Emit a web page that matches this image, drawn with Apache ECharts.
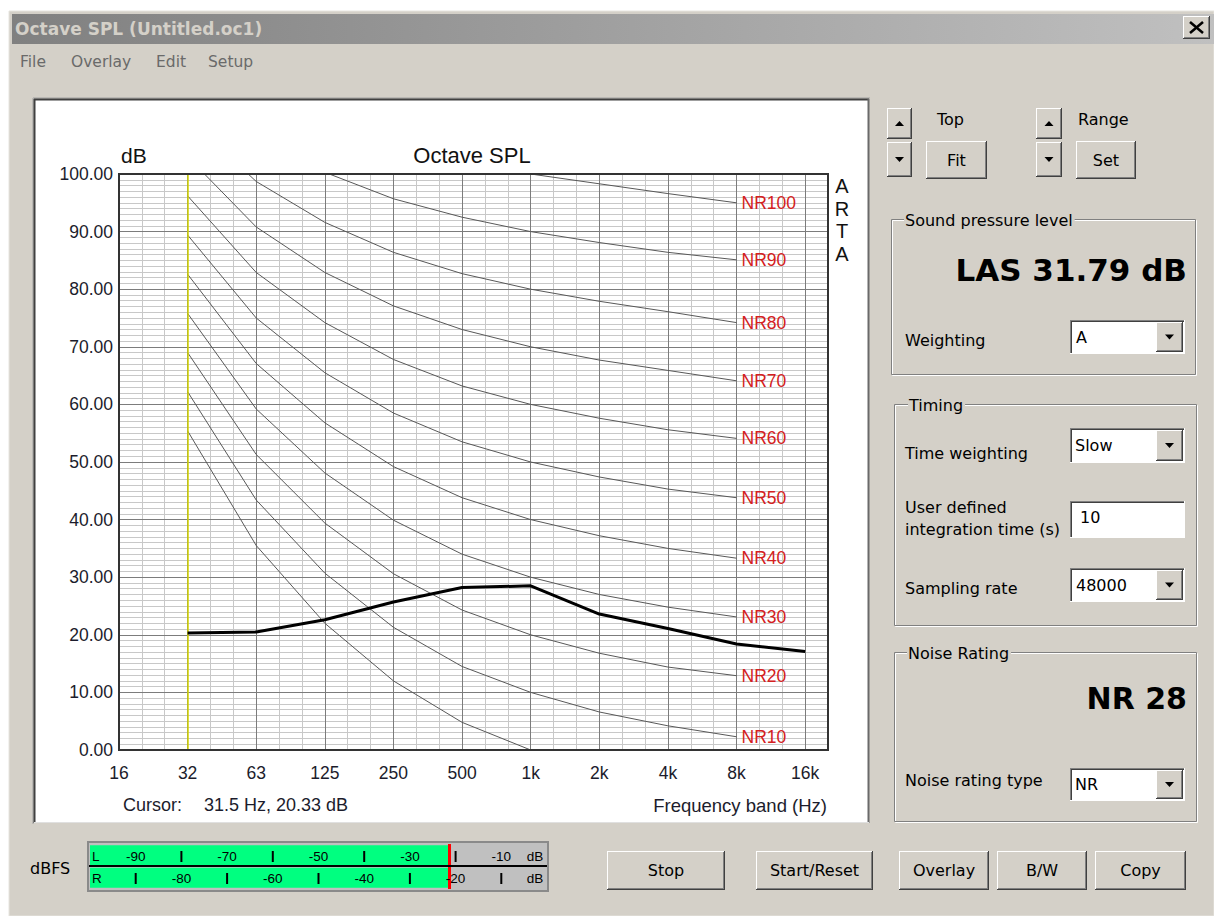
<!DOCTYPE html>
<html><head><meta charset="utf-8">
<script src="https://cdn.jsdelivr.net/npm/echarts@6/dist/echarts.min.js"></script>
<style>html,body{margin:0;padding:0;background:#fff;}#c{width:1214px;height:916px;}</style>
</head><body><div id="c"></div>
<script>
// ---------- data ----------
const bands = ['16','32','63','125','250','500','1k','2k','4k','8k','16k'];
const nrBands = ['32','63','125','250','500','1k','2k','4k','8k'];
const nrLevels = [0,10,20,30,40,50,60,70,80,90,100];
const nr0   = [55.4, 35.5, 22.0, 12.0,  4.8,   0.0, -3.5, -6.1, -8.0];
const nr10  = [62.2, 43.4, 30.7, 21.3, 14.5,  10.0,  6.6,  4.2,  2.3];
const nr20  = [69.0, 51.3, 39.4, 30.6, 24.3,  20.0, 16.8, 14.4, 12.9];
const nr30  = [75.8, 59.2, 48.1, 39.9, 34.0,  30.0, 27.0, 24.8, 23.1];
const nr40  = [82.6, 67.1, 56.8, 49.2, 43.8,  40.0, 37.2, 35.0, 33.3];
const nr50  = [89.4, 75.0, 65.5, 58.5, 53.5,  50.0, 47.4, 45.3, 43.8];
const nr60  = [96.2, 82.9, 74.2, 67.8, 63.2,  60.0, 57.6, 55.6, 54.1];
const nr70  = [103.0,90.8, 82.9, 77.1, 73.0,  70.0, 67.7, 65.9, 64.1];
const nr80  = [109.8,98.7, 91.6, 86.4, 82.7,  80.0, 77.9, 76.1, 74.2];
const nr90  = [116.6,106.6,100.3,95.7, 92.5,  90.0, 88.1, 86.4, 85.1];
const nr100 = [123.4,114.5,109.0,105.0,102.2,100.0, 98.3, 96.6, 95.0];
const measuredBands = ['32','63','125','250','500','1k','2k','4k','8k','16k'];
const measuredDb = [20.33, 20.5, 22.6, 25.7, 28.2, 28.5, 23.6, 21.1, 18.4, 17.1];
const cursorBand = '32';
const cursorFreqHz = '31.5';
const meterChannels = ['L','R'];
const meterLevels = [-21.4, -21.4];
const meterLabelsL = [-90,-70,-50,-30,-10];
const meterTicksL  = [-80,-60,-40,-20];
const meterLabelsR = [-80,-60,-40,-20];
const meterTicksR  = [-90,-70,-50,-30,-10];

const nrCurves = [nr0,nr10,nr20,nr30,nr40,nr50,nr60,nr70,nr80,nr90,nr100];
const UI = '"DejaVu Sans", sans-serif';
const AR = '"Liberation Sans", Arial, sans-serif';
const BG = '#d4d0c8';
const octIdx = b => bands.indexOf(b);

const chart = echarts.init(document.getElementById('c'), null, {renderer:'svg', width:1214, height:916});

const nrSeries = nrLevels.map((lv,k)=>({
  type:'line', xAxisIndex:1, yAxisIndex:1, silent:true, clip:true, symbol:'none',
  data: nrBands.map((b,i)=>[octIdx(b), nrCurves[k][i]]),
  lineStyle:{color:'#585858', width:1},
  endLabel: lv>0 ? {show:true, formatter:'NR'+lv, color:'#d42020', fontSize:17.5, fontFamily:AR, distance:5} : {show:false},
  z:3
}));

const option = {
  animation:false,
  backgroundColor:'transparent',
  grid:[
    {left:119, top:174, width:709, height:576, show:false},
    {left:90, top:844, width:457, height:45, show:false}
  ],
  xAxis:[
    {gridIndex:0, type:'value', min:0, max:31, interval:1, position:'top', z:0,
     axisLine:{show:false}, axisTick:{show:false}, axisLabel:{show:false},
     splitLine:{show:true, lineStyle:{color:'#c8c8c8', width:1}}},
    {gridIndex:0, type:'value', min:0, max:31/3, interval:1, position:'bottom', z:1,
     axisLine:{show:false}, axisTick:{show:false},
     axisLabel:{show:true, margin:14, fontSize:17.5, fontFamily:AR, color:'#1c1c2c', showMinLabel:true,
       formatter:v=>Number.isInteger(v)?bands[v]:''},
     splitLine:{show:true, lineStyle:{color:'#7c7c7c', width:1}}},
    {gridIndex:1, type:'value', min:0, max:100, show:false}
  ],
  yAxis:[
    {gridIndex:0, type:'value', min:0, max:100, interval:1, position:'right', z:0,
     axisLine:{show:false}, axisTick:{show:false}, axisLabel:{show:false},
     splitLine:{show:true, lineStyle:{color:'#c8c8c8', width:1}}},
    {gridIndex:0, type:'value', min:0, max:100, interval:10, position:'left', z:1,
     axisLine:{show:false}, axisTick:{show:false},
     axisLabel:{show:true, margin:6, fontSize:17.5, fontFamily:AR, color:'#1c1c2c', formatter:v=>v.toFixed(2)},
     splitLine:{show:true, lineStyle:{color:'#7c7c7c', width:1}}},
    {gridIndex:1, type:'category', data:meterChannels, inverse:true, show:false}
  ],
  series:[
    ...nrSeries,
    {type:'line', xAxisIndex:1, yAxisIndex:1, silent:true, clip:true, symbol:'none', z:6,
     data: measuredBands.map((b,i)=>[octIdx(b), measuredDb[i]]),
     lineStyle:{color:'#000', width:3},
     markLine:{silent:true, symbol:'none', label:{show:false}, animation:false,
       lineStyle:{color:'#d4d400', width:1.5, type:'solid'},
       data:[{xAxis: octIdx(cursorBand)}]}},
    {type:'bar', xAxisIndex:2, yAxisIndex:2, silent:true, barWidth:20, z:3,
     data: meterLevels.map(v=>v+100), itemStyle:{color:'#00ff80'},
     markLine:{silent:true, symbol:'none', label:{show:false}, animation:false,
       lineStyle:{color:'#ff0000', width:3, type:'solid'},
       data:[{xAxis: Math.max(...meterLevels)+100}]}}
  ]
};
chart.setOption(option);

// ---------- window chrome (graphics) ----------
const G = [];
function rect(x,y,w,h,fill,stroke,lw,z){G.push({type:'rect',silent:true,z:z??10,shape:{x,y,width:w,height:h},style:{fill:fill||'none',stroke:stroke||'none',lineWidth:lw||1}});}
function line(x1,y1,x2,y2,stroke,lw,z){G.push({type:'line',silent:true,z:z??10,shape:{x1,y1,x2,y2},style:{stroke,lineWidth:lw||1}});}
function poly(points,fill,z){G.push({type:'polygon',silent:true,z:z??15,shape:{points},style:{fill}});}
function txt(t,x,y,size,o){o=o||{};G.push({type:'text',silent:true,z:o.z??20,style:{text:t,x,y,fill:o.color||'#000',
  fontSize:size,fontFamily:o.family||UI,fontWeight:o.weight||'normal',
  textAlign:o.align||'left',align:o.align||'left',textVerticalAlign:'middle',verticalAlign:'middle',
  backgroundColor:o.bg,padding:o.pad}});}
function raised(x,y,w,h,z){z=z??10;
  rect(x,y,w,h,BG,null,1,z);
  line(x,y+0.5,x+w-1,y+0.5,'#fff',1,z); line(x+0.5,y,x+0.5,y+h-1,'#fff',1,z);
  line(x,y+h-0.5,x+w,y+h-0.5,'#404040',1,z); line(x+w-0.5,y,x+w-0.5,y+h,'#404040',1,z);
  line(x+1,y+h-1.5,x+w-1,y+h-1.5,'#808080',1,z); line(x+w-1.5,y+1,x+w-1.5,y+h-1,'#808080',1,z);}
function sunken(x,y,w,h,fill){
  rect(x,y,w,h,fill);
  line(x,y+0.5,x+w,y+0.5,'#808080'); line(x+0.5,y,x+0.5,y+h,'#808080');
  line(x+1,y+1.5,x+w-1,y+1.5,'#404040'); line(x+1.5,y+1,x+1.5,y+h-1,'#404040');
  line(x,y+h-0.5,x+w,y+h-0.5,'#fff'); line(x+w-0.5,y,x+w-0.5,y+h,'#fff');}
function button(x,y,w,h,label){raised(x,y,w,h); txt(label,x+w/2,y+h/2,16,{align:'center'});}
function triDown(cx,cy){poly([[cx-4.5,cy-2.5],[cx+4.5,cy-2.5],[cx,cy+2.5]],'#000');}
function triUp(cx,cy){poly([[cx-4.5,cy+2.5],[cx+4.5,cy+2.5],[cx,cy-2.5]],'#000');}
function combo(x,y,w,h,label,lx){sunken(x,y,w,h,'#fff'); raised(x+w-29,y+2,27,h-4,12); triDown(x+w-15.5,y+h/2); txt(label,lx||x+6,y+h/2,16);}
function groupBox(x,y,w,h,title,tx){
  rect(x+1.5,y+1.5,w-1,h-1,null,'#fff'); rect(x+0.5,y+0.5,w-1,h-1,null,'#808080');
  txt(title,tx,y+1,16,{bg:BG,pad:[0,2,0,1]});}

// background
rect(0,0,1214,916,'#ffffff',null,1,-20);
rect(9,11,1205,905,BG,'#e6e4de',1,-19);
G.push({type:'rect',silent:true,z:-18,shape:{x:12,y:14,width:1202,height:30},
  style:{fill:{type:'linear',x:0,y:0,x2:1,y2:0,colorStops:[{offset:0,color:'#808080'},{offset:1,color:'#c0c0c0'}]}}});
txt('Octave SPL (Untitled.oc1)',15,29,17,{weight:'bold',color:'#d4d0c8'});
raised(1183,16,27,23);
line(1190,22,1203,33,'#000',2.5,12); line(1203,22,1190,33,'#000',2.5,12);
// menu
txt('File',20,62,15.5,{color:'#6a6a6a'});
txt('Overlay',71,62,15.5,{color:'#6a6a6a'});
txt('Edit',156,62,15.5,{color:'#6a6a6a'});
txt('Setup',208,62,15.5,{color:'#6a6a6a'});

// chart panel
rect(34,99,835,724,'#ffffff',null,1,-15);
line(33,98,870,98,'#a0a0a0',1,10); line(33,98,33,824,'#a0a0a0',1,10);
line(34.5,99,34.5,823,'#404040',2,10); line(34,99.5,869,99.5,'#404040',2,10);
line(868.5,99,868.5,823,'#6a6a6a',2,10); line(34,822.5,869,822.5,'#e0e0e0',1,10);
// plot border
rect(119,174,709,576,null,'#333333',2,10);
// chart texts
txt('dB',121,155,21,{family:AR,color:'#111'});
txt('Octave SPL',472,155,22,{family:AR,color:'#111',align:'center'});
['A','R','T','A'].forEach((c,i)=>txt(c,842,186+i*22.5,20,{family:AR,color:'#111',align:'center'}));
txt('Cursor:',123,805,18,{family:AR,color:'#1c1c2c'});
txt(`${cursorFreqHz} Hz, ${measuredDb[measuredBands.indexOf(cursorBand)].toFixed(2)} dB`,204,805,18,{family:AR,color:'#1c1c2c'});
txt('Frequency band (Hz)',827,805,18.5,{family:AR,color:'#1c1c2c',align:'right'});

// right panel: top controls
raised(887,108,25,31); triUp(899.5,123.5);
raised(887,142,25,35); triDown(899.5,159.5);
txt('Top',937,119,16);
button(926,141,61,38,'Fit');
raised(1036,108,26,31); triUp(1049,123.5);
raised(1036,142,26,35); triDown(1049,159.5);
txt('Range',1078,119,16);
button(1076,141,60,38,'Set');

groupBox(891,219,305,156,'Sound pressure level',904);
txt('LAS 31.79 dB',1187,270,31,{weight:'bold',align:'right'});
txt('Weighting',905,340,16);
combo(1070,320,115,34,'A',1076);

groupBox(894,404,303,222,'Timing',908);
txt('Time weighting',905,453,16);
combo(1070,428,115,35,'Slow',1075);
txt('User defined',905,507,16);
txt('integration time (s)',905,529,16);
sunken(1070,501,115,37,'#fff'); txt('10',1080,517,16);
txt('Sampling rate',905,588,16);
combo(1070,568,115,34,'48000',1076);

groupBox(894,652,303,170,'Noise Rating',907);
txt('NR 28',1187,698,30,{weight:'bold',align:'right'});
txt('Noise rating type',905,780,16);
combo(1070,768,115,33,'NR',1075);

// bottom
txt('dBFS',30,868,16);
rect(88,842,460,49,'#c0c0c0','#8a8a8a',2,-5);
line(89,866,547,866,'#000',2,10);
const mx = v => chart.convertToPixel({xAxisIndex:2}, v+100);
txt('L',92,856,13.5,{family:AR}); txt('R',92,878,13.5,{family:AR});
meterLabelsL.forEach(v=>txt(String(v),mx(v),856,13.5,{family:AR,align:'center'}));
meterTicksL.forEach(v=>line(mx(v),851,mx(v),862,'#000',2,12));
meterLabelsR.forEach(v=>txt(String(v),mx(v),878,13.5,{family:AR,align:'center'}));
meterTicksR.forEach(v=>line(mx(v),873,mx(v),884,'#000',2,12));
txt('dB',535,856,13.5,{family:AR,align:'center'}); txt('dB',535,878,13.5,{family:AR,align:'center'});

button(607,851,118,39,'Stop');
button(756,851,117,39,'Start/Reset');
button(899,851,90,39,'Overlay');
button(997,851,90,39,'B/W');
button(1095,851,91,39,'Copy');

chart.setOption({graphic:{elements:G}});
</script></body></html>
